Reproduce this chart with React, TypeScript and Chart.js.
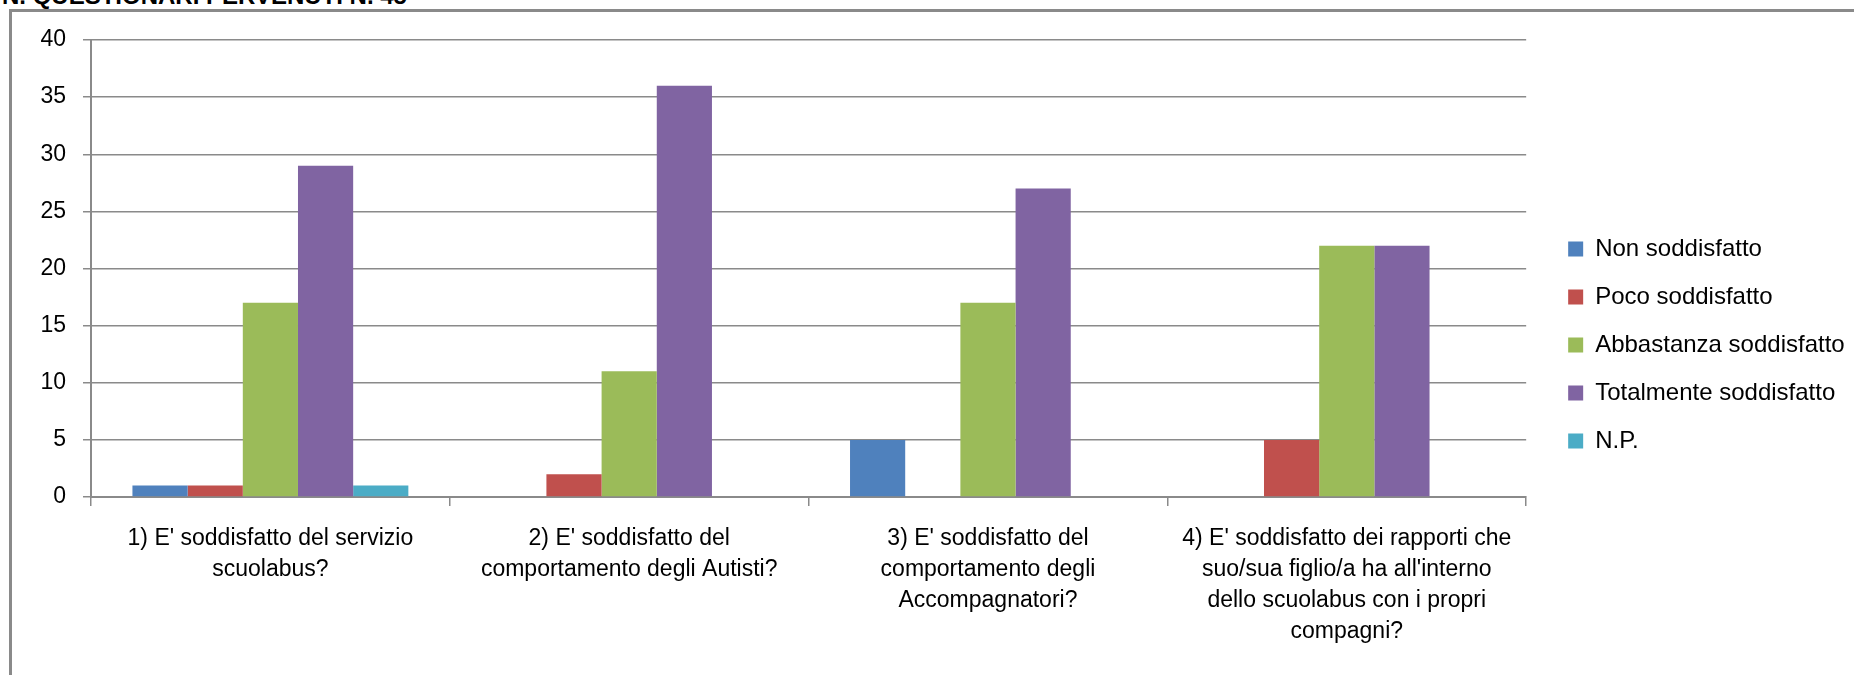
import React, { useEffect, useRef } from "react";
import { Chart, registerables } from "chart.js";

Chart.register(...registerables);

const categories: string[][] = [
  ["1) E' soddisfatto del servizio", "scuolabus?"],
  ["2) E' soddisfatto del", "comportamento degli Autisti?"],
  ["3) E' soddisfatto del", "comportamento degli", "Accompagnatori?"],
  ["4) E' soddisfatto dei rapporti che", "suo/sua figlio/a ha all'interno", "dello scuolabus con i propri", "compagni?"],
];

const seriesNames: string[] = [
  "Non soddisfatto",
  "Poco soddisfatto",
  "Abbastanza soddisfatto",
  "Totalmente soddisfatto",
  "N.P.",
];

const nonSoddisfatto: number[] = [1, 0, 5, 0];
const pocoSoddisfatto: number[] = [1, 2, 0, 5];
const abbastanzaSoddisfatto: number[] = [17, 11, 17, 22];
const totalmenteSoddisfatto: number[] = [29, 36, 27, 22];
const np: number[] = [1, 0, 0, 0];

const seriesColors: string[] = ["#4F81BD", "#C0504D", "#9BBB59", "#8064A2", "#4BACC6"];

const yTicks: number[] = [0, 5, 10, 15, 20, 25, 30, 35, 40];

const titleText = "N. QUESTIONARI PERVENUTI N. 45";

const FONT = "'Liberation Sans', Arial, sans-serif";
const GRID = "#8a8a8a";

export default function App() {
  const ref = useRef<HTMLCanvasElement | null>(null);

  useEffect(() => {
    if (!ref.current) return;
    const values = [nonSoddisfatto, pocoSoddisfatto, abbastanzaSoddisfatto, totalmenteSoddisfatto, np];
    const chart = new Chart(ref.current, {
      type: "bar",
      data: {
        labels: categories,
        datasets: seriesNames.map((name, i) => ({
          label: name,
          data: values[i],
          backgroundColor: seriesColors[i],
          borderWidth: 0,
          categoryPercentage: 0.769,
          barPercentage: 1,
        })),
      },
      options: {
        animation: false,
        responsive: false,
        devicePixelRatio: 1,
        layout: { padding: { left: 40, top: 40, right: 9, bottom: 25 } },
        plugins: {
          title: { display: false },
          tooltip: { enabled: false },
          legend: {
            display: true,
            position: "right",
            align: "center",
            labels: {
              boxWidth: 15,
              boxHeight: 15,
              padding: 24,
              color: "#000",
              font: { family: FONT, size: 24 },
            },
          },
        },
        scales: {
          x: {
            grid: {
              display: true,
              offset: true,
              drawOnChartArea: false,
              drawTicks: true,
              tickLength: 9,
              color: GRID,
              lineWidth: 1.5,
            },
            border: { display: true, color: GRID, width: 2 },
            ticks: {
              color: "#000",
              autoSkip: false,
              maxRotation: 0,
              minRotation: 0,
              padding: 17,
              font: { family: FONT, size: 23, lineHeight: "31px" },
            },
            afterFit: (s: any) => {
              s.height = 153;
            },
          },
          y: {
            min: 0,
            max: 40,
            afterBuildTicks: (s: any) => {
              s.ticks = yTicks.map((v) => ({ value: v }));
            },
            grid: {
              color: GRID,
              lineWidth: 1.5,
              drawTicks: true,
              tickLength: 8,
            },
            border: { display: true, color: GRID, width: 2 },
            ticks: {
              color: "#000",
              padding: 17,
              font: { family: FONT, size: 23 },
            },
            afterFit: (s: any) => {
              s.width = 51;
            },
          },
          yR: {
            type: "linear",
            position: "right",
            display: true,
            grid: { display: false, drawTicks: false },
            border: { display: false },
            ticks: { display: false },
            afterFit: (s: any) => {
              s.width = 18;
            },
          },
        },
      },
    });
    return () => chart.destroy();
  }, []);

  return (
    <div
      style={{
        position: "fixed",
        left: 0,
        top: 0,
        width: 1854,
        height: 675,
        overflow: "hidden",
        background: "#fff",
      }}
    >
      <div
        style={{
          position: "absolute",
          left: 2,
          top: -16,
          fontFamily: FONT,
          fontWeight: "bold",
          fontSize: 24,
          lineHeight: "24px",
          color: "#000",
          whiteSpace: "nowrap",
        }}
      >
        {titleText}
      </div>
      <div
        style={{
          position: "absolute",
          left: 9,
          top: 9,
          width: 2000,
          height: 1000,
          borderLeft: `3px solid ${GRID}`,
          borderTop: `3px solid ${GRID}`,
          boxSizing: "border-box",
        }}
      />
      <canvas
        ref={ref}
        width={1854}
        height={675}
        style={{ position: "absolute", left: 0, top: 0, width: 1854, height: 675 }}
      />
    </div>
  );
}
